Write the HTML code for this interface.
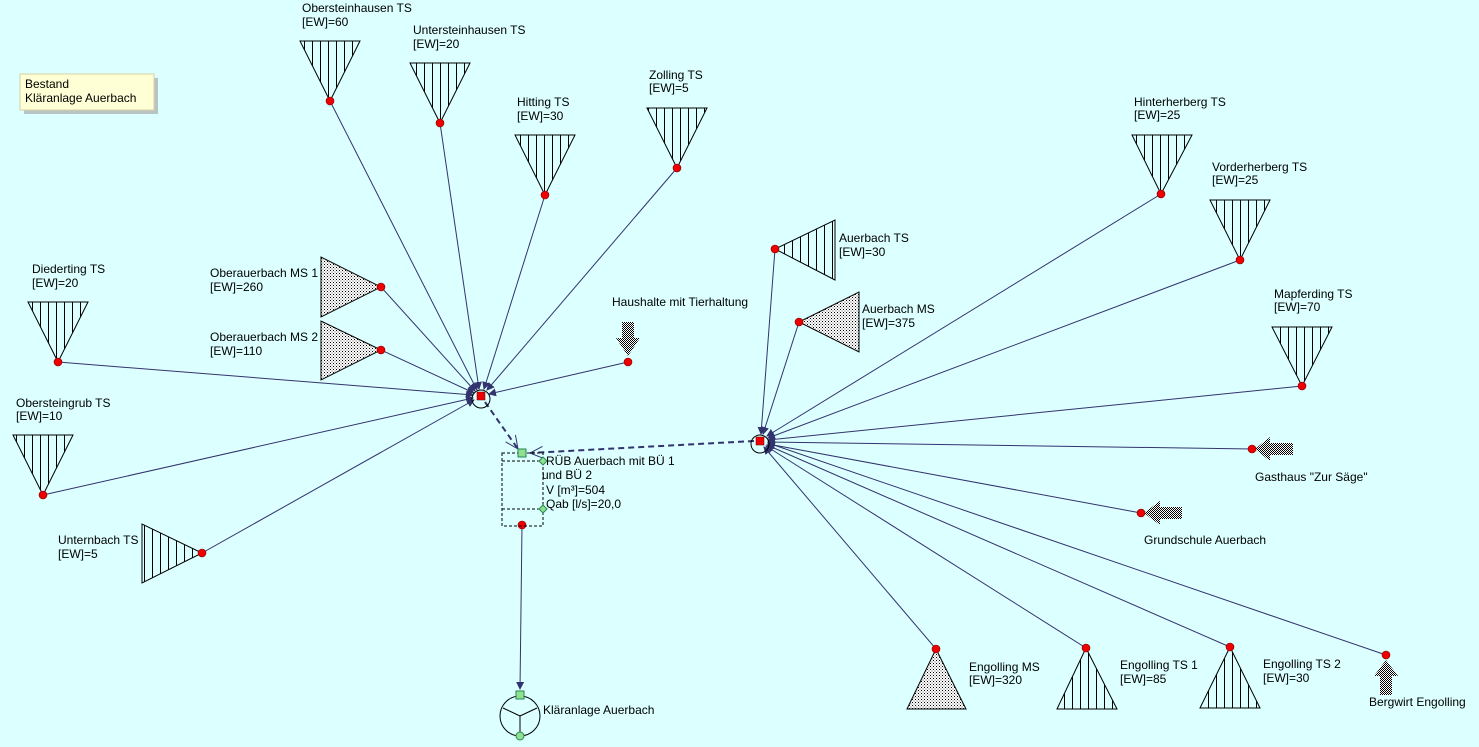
<!DOCTYPE html>
<html><head><meta charset="utf-8"><style>
html,body{margin:0;padding:0;background:#dcffff;}
svg{display:block;font-family:"Liberation Sans",sans-serif;font-size:12px;}
</style></head><body>
<svg width="1479" height="747" viewBox="0 0 1479 747" xmlns="http://www.w3.org/2000/svg">
<defs>
<pattern id="vh" patternUnits="userSpaceOnUse" width="8" height="8"><rect width="8" height="8" fill="#dcffff"/><line x1="0.5" y1="0" x2="0.5" y2="8" stroke="#000" stroke-width="1"/></pattern>
<pattern id="dt" patternUnits="userSpaceOnUse" width="3" height="3"><rect width="3" height="3" fill="#fff"/><rect width="1" height="1" fill="#000"/><rect x="1.5" y="1.5" width="1" height="1" fill="#555"/></pattern>
<pattern id="ck" patternUnits="userSpaceOnUse" width="2" height="2"><rect width="2" height="2" fill="#fff"/><rect width="1" height="1" fill="#000"/><rect x="1" y="1" width="1" height="1" fill="#000"/></pattern>
<marker id="ar" markerWidth="8" markerHeight="8" refX="7" refY="4" orient="auto" markerUnits="userSpaceOnUse"><path d="M0,0 L8,4 L0,8 Z" fill="#33336e"/></marker>
<marker id="oa" markerWidth="14" markerHeight="14" refX="13" refY="7" orient="auto" markerUnits="userSpaceOnUse"><path d="M0,1 L13,7 L0,13" fill="none" stroke="#33336e" stroke-width="1"/></marker>
</defs>
<rect width="1479" height="747" fill="#dcffff"/>

<!-- legend -->
<rect x="24" y="78" width="134" height="36" fill="#b8c4c4"/>
<rect x="20" y="74" width="134" height="36" fill="#ffffd6" stroke="#d8d0a0"/>
<text x="25" y="88">Bestand</text><text x="25" y="102">Kläranlage Auerbach</text>

<!-- connectors hub1 -->
<g stroke="#33336e" stroke-width="1" fill="none" marker-end="url(#ar)">
<line x1="330" y1="101" x2="477" y2="390"/>
<line x1="440" y1="123" x2="479" y2="389"/>
<line x1="545" y1="195" x2="484" y2="389"/>
<line x1="677" y1="168" x2="487" y2="390"/>
<line x1="381" y1="287" x2="475" y2="391"/>
<line x1="381" y1="350" x2="474" y2="393"/>
<line x1="58" y1="362" x2="473" y2="395"/>
<line x1="43" y1="495" x2="473" y2="398"/>
<line x1="202" y1="553" x2="474" y2="400"/>
<line x1="628" y1="362" x2="489" y2="394"/>
<!-- hub2 -->
<line x1="775" y1="249" x2="761" y2="434"/>
<line x1="799" y1="322" x2="763" y2="434"/>
<line x1="1161" y1="194" x2="767" y2="436"/>
<line x1="1240" y1="260" x2="768" y2="438"/>
<line x1="1302" y1="386" x2="768" y2="440"/>
<line x1="1252" y1="449" x2="768" y2="442"/>
<line x1="1141" y1="513" x2="768" y2="444"/>
<line x1="936" y1="649" x2="764" y2="447"/>
<line x1="1086" y1="648" x2="766" y2="446"/>
<line x1="1230" y1="647" x2="767" y2="445"/>
<line x1="1386" y1="655" x2="768" y2="443"/>
<line x1="522" y1="526" x2="520" y2="689"/>
</g>
<g stroke="#33336e" stroke-width="2" stroke-dasharray="6,4" fill="none" marker-end="url(#oa)">
<line x1="485" y1="402" x2="518" y2="449"/>
<line x1="754" y1="441" x2="530" y2="453"/>
</g>

<!-- hubs -->
<g fill="none" stroke="#000">
<circle cx="481" cy="399" r="9"/><circle cx="760" cy="444" r="9"/>
</g>
<rect x="477" y="392" width="8" height="8" fill="#e00" stroke="#600" stroke-width="0.5"/>
<rect x="756" y="437" width="8" height="8" fill="#e00" stroke="#600" stroke-width="0.5"/>

<!-- down triangles hatched -->
<g fill="url(#vh)" stroke="#000" stroke-width="1">
<path d="M300,41 L360,41 L330,101 Z"/>
<path d="M410,63 L470,63 L440,123 Z"/>
<path d="M515,135 L575,135 L545,195 Z"/>
<path d="M647,108 L707,108 L677,168 Z"/>
<path d="M28,302 L88,302 L58,362 Z"/>
<path d="M13,435 L73,435 L43,495 Z"/>
<path d="M1132,135 L1192,135 L1161,194 Z"/>
<path d="M1210,200 L1270,200 L1240,260 Z"/>
<path d="M1272,327 L1332,327 L1302,386 Z"/>
<path d="M142,524 L142,583 L202,553 Z"/>
<path d="M835,220 L835,280 L775,249 Z"/>
<path d="M1086,648 L1057,709 L1117,709 Z"/>
<path d="M1230,647 L1200,708 L1260,708 Z"/>
</g>
<g fill="url(#dt)" stroke="#000" stroke-width="1">
<path d="M321,257 L321,317 L381,287 Z"/>
<path d="M321,321 L321,380 L381,350 Z"/>
<path d="M859,292 L859,352 L799,322 Z"/>
<path d="M936,649 L907,709 L966,709 Z"/>
</g>
<!-- block arrows -->
<g fill="url(#ck)">
<path d="M622,322 L634,322 L634,338 L640,338 L628,356 L616,338 L622,338 Z"/>
<path d="M1293,443 L1270,443 L1270,437 L1255,449 L1270,461 L1270,455 L1293,455 Z"/>
<path d="M1182,507 L1160,507 L1160,501 L1144,513 L1160,525 L1160,519 L1182,519 Z"/>
<path d="M1380,695 L1392,695 L1392,676 L1398,676 L1386,660 L1374,676 L1380,676 Z"/>
</g>
<!-- red dots -->
<g fill="#e00" stroke="#700" stroke-width="0.6">
<circle cx="330" cy="101" r="4"/><circle cx="440" cy="123" r="4"/><circle cx="545" cy="195" r="4"/><circle cx="677" cy="168" r="4"/>
<circle cx="58" cy="362" r="4"/><circle cx="43" cy="495" r="4"/><circle cx="202" cy="553" r="4"/>
<circle cx="381" cy="287" r="4"/><circle cx="381" cy="350" r="4"/><circle cx="628" cy="362" r="4"/>
<circle cx="775" cy="249" r="4"/><circle cx="799" cy="322" r="4"/><circle cx="1161" cy="194" r="4"/><circle cx="1240" cy="260" r="4"/><circle cx="1302" cy="386" r="4"/>
<circle cx="1252" cy="449" r="4"/><circle cx="1141" cy="513" r="4"/><circle cx="936" cy="649" r="4"/><circle cx="1086" cy="648" r="4"/><circle cx="1230" cy="647" r="4"/><circle cx="1386" cy="655" r="4"/>
<circle cx="522" cy="525" r="4"/>
</g>

<!-- RÜB -->
<g fill="none" stroke="#000" stroke-dasharray="3,2" stroke-width="1">
<rect x="502" y="453" width="41" height="73"/>
<line x1="502" y1="461" x2="543" y2="461"/><line x1="502" y1="509" x2="543" y2="509"/>
</g>
<rect x="518" y="449" width="8" height="8" fill="#90e090" stroke="#285" />
<path d="M543,457 L547,461 L543,465 L539,461 Z" fill="#90e090" stroke="#285"/>
<path d="M543,505 L547,509 L543,513 L539,509 Z" fill="#90e090" stroke="#285"/>

<!-- Kläranlage -->
<circle cx="520" cy="716" r="20" fill="none" stroke="#000"/>
<path d="M520,716 L503,708 M520,716 L537,708 M520,716 L520,734" stroke="#000" fill="none"/>
<rect x="516" y="691" width="8" height="8" fill="#90e090" stroke="#285"/>
<circle cx="520" cy="736" r="4" fill="#90e090" stroke="#285"/>

<!-- labels -->
<g fill="#000">
<text x="302" y="12">Obersteinhausen TS</text><text x="302" y="26">[EW]=60</text>
<text x="413" y="34">Untersteinhausen TS</text><text x="413" y="48">[EW]=20</text>
<text x="517" y="106">Hitting TS</text><text x="517" y="120">[EW]=30</text>
<text x="649" y="79">Zolling TS</text><text x="649" y="92">[EW]=5</text>
<text x="32" y="273">Diederting TS</text><text x="32" y="287">[EW]=20</text>
<text x="16" y="407">Obersteingrub TS</text><text x="16" y="420">[EW]=10</text>
<text x="58" y="544">Unternbach TS</text><text x="58" y="558">[EW]=5</text>
<text x="210" y="277">Oberauerbach MS 1</text><text x="210" y="291">[EW]=260</text>
<text x="210" y="341">Oberauerbach MS 2</text><text x="210" y="355">[EW]=110</text>
<text x="612" y="306">Haushalte mit Tierhaltung</text>
<text x="839" y="242">Auerbach TS</text><text x="839" y="256">[EW]=30</text>
<text x="862" y="313">Auerbach MS</text><text x="862" y="327">[EW]=375</text>
<text x="1134" y="106">Hinterherberg TS</text><text x="1134" y="119">[EW]=25</text>
<text x="1212" y="171">Vorderherberg TS</text><text x="1212" y="184">[EW]=25</text>
<text x="1274" y="298">Mapferding TS</text><text x="1274" y="311">[EW]=70</text>
<text x="1255" y="481">Gasthaus "Zur Säge"</text>
<text x="1144" y="544">Grundschule Auerbach</text>
<text x="969" y="671">Engolling MS</text><text x="969" y="684">[EW]=320</text>
<text x="1120" y="669">Engolling TS 1</text><text x="1120" y="683">[EW]=85</text>
<text x="1263" y="668">Engolling TS 2</text><text x="1263" y="682">[EW]=30</text>
<text x="1369" y="706">Bergwirt Engolling</text>
<text x="546" y="465">RÜB Auerbach mit BÜ 1</text><text x="542" y="479">und BÜ 2</text>
<text x="546" y="494">V [m³]=504</text><text x="546" y="508">Qab [l/s]=20,0</text>
<text x="543" y="714">Kläranlage Auerbach</text>
</g>
</svg>
</body></html>
